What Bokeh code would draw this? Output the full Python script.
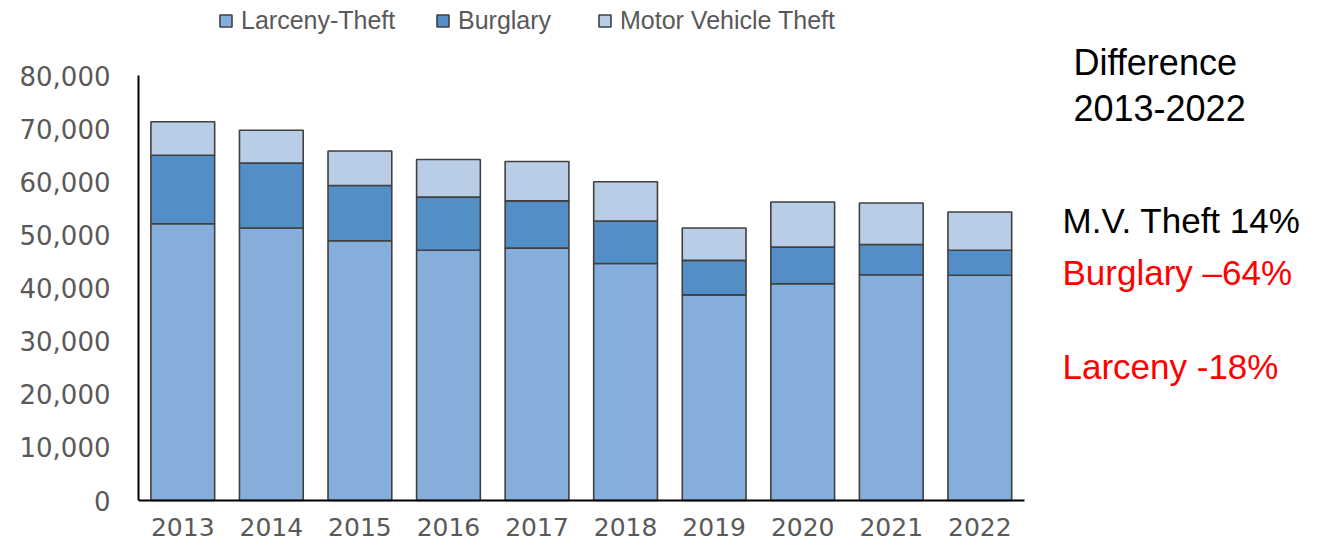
from bokeh.plotting import figure
from bokeh.models import (ColumnDataSource, Range1d, LinearAxis, FixedTicker,
                          NumeralTickFormatter, Legend, LegendItem, Label)
from bokeh.embed import file_html
from bokeh.resources import INLINE

# ---- data -------------------------------------------------------------
years = ["2013", "2014", "2015", "2016", "2017", "2018", "2019", "2020", "2021", "2022"]
larceny = [52100, 51300, 48900, 47100, 47500, 44600, 38700, 40800, 42500, 42400]
burglary = [12900, 12200, 10400, 10000, 8900, 8000, 6500, 6900, 5700, 4700]
mvt = [6300, 6200, 6500, 7100, 7400, 7400, 6100, 8500, 7800, 7200]
series_names = ["Larceny-Theft", "Burglary", "Motor Vehicle Theft"]
y_ticks = [0, 10000, 20000, 30000, 40000, 50000, 60000, 70000, 80000]
diff_title = ["Difference", "2013-2022"]
diff_lines = ["M.V. Theft 14%", "Burglary \u201364%", "Larceny -18%"]

# ---- geometry ---------------------------------------------------------
W, H = 1324, 547
LEFT = 138            # frame left (canvas px)
PPU_X = 88.56         # px per category
ZERO_Y = 500          # canvas y of value 0
TOP_Y = 75            # canvas y of 80,000
PX_PER_VAL = (ZERO_Y - TOP_Y) / 80000.0

x_start = -0.5
x_end = x_start + (W - LEFT) / PPU_X
y_start = -(H - ZERO_Y) / PX_PER_VAL
y_end = ZERO_Y / PX_PER_VAL


def dx(sx):  # canvas px -> data x
    return x_start + (sx - LEFT) / PPU_X


def dy(sy):  # canvas px -> data y
    return (ZERO_Y - sy) / PX_PER_VAL


src = ColumnDataSource(dict(x=list(range(len(years))), larceny=larceny,
                            burglary=burglary, mvt=mvt))

p = figure(width=W, height=H, x_range=Range1d(x_start, x_end),
           y_range=Range1d(y_start, y_end), output_backend="svg",
           toolbar_location=None, x_axis_type=None, y_axis_type=None,
           min_border=0, min_border_left=LEFT)
p.outline_line_color = None
p.background_fill_color = "white"

colors = ["#85AEDB", "#538FC6", "#B9CDE7"]
rs = p.vbar_stack(["larceny", "burglary", "mvt"], x="x", width=0.72, source=src,
                  fill_color=colors, line_color="#404040", line_width=1.6)

tick_font = "DejaVu Sans"
yaxis = LinearAxis(ticker=FixedTicker(ticks=y_ticks),
                   formatter=NumeralTickFormatter(format="0,0"),
                   bounds=(0, 80000), axis_line_color="black", axis_line_width=2,
                   major_tick_line_color=None, minor_tick_line_color=None,
                   major_tick_out=0, major_tick_in=0,
                   major_label_text_font=tick_font,
                   major_label_text_font_size="26px",
                   major_label_text_color="#595959",
                   major_label_standoff=28)
p.add_layout(yaxis, "left")

xaxis = LinearAxis(ticker=FixedTicker(ticks=list(range(len(years)))),
                   major_label_overrides={i: y for i, y in enumerate(years)},
                   bounds=(-0.5, 9.5), fixed_location=0,
                   axis_line_color="black", axis_line_width=2,
                   major_tick_line_color=None, minor_tick_line_color=None,
                   major_tick_out=0, major_tick_in=0,
                   major_label_text_font=tick_font,
                   major_label_text_font_size="25px",
                   major_label_text_color="#595959",
                   major_label_standoff=17)
p.add_layout(xaxis, "below")

# legends (one per item for exact placement)
leg_x = [80, 297, 459]
for r, name, lx in zip(rs, series_names, leg_x):
    leg = Legend(items=[LegendItem(label=name, renderers=[r])],
                 location=(lx, 512), orientation="horizontal",
                 glyph_width=15, glyph_height=15, label_standoff=8,
                 padding=0, margin=0, border_line_color=None,
                 background_fill_alpha=0, label_text_font="Liberation Sans",
                 label_text_font_size="25px", label_text_color="#595959")
    p.add_layout(leg, "center")

# right-hand annotation
for txt, sy in zip(diff_title, [62, 107]):
    p.add_layout(Label(x=dx(1073), y=dy(sy), text=txt, text_font="Liberation Sans",
                       text_font_size="36px", text_color="black",
                       text_baseline="alphabetic", text_align="left"))
for txt, sy, col in zip(diff_lines, [220, 272, 366], ["black", "#FF0000", "#FF0000"]):
    p.add_layout(Label(x=dx(1062), y=dy(sy), text=txt, text_font="Liberation Sans",
                       text_font_size="35px", text_color=col,
                       text_baseline="alphabetic", text_align="left"))

open("out.html", "w").write(file_html(p, INLINE))
